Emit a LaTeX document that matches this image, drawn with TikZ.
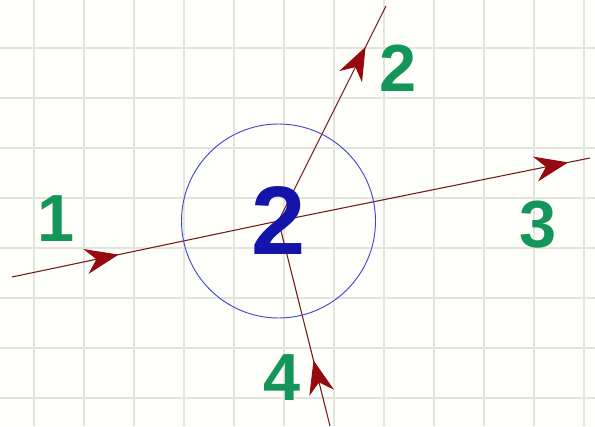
\documentclass[tikz,border=0pt]{standalone}
\usepackage{fontspec}
\setmainfont{Liberation Sans}
\usetikzlibrary{arrows.meta, decorations.markings}
\definecolor{flowR}{RGB}{115, 25, 25}
\definecolor{tipR}{RGB}{150, 10, 15}
\definecolor{numG}{RGB}{20, 150, 90}
\definecolor{hubB}{RGB}{20, 20, 170}
\definecolor{ringB}{RGB}{70, 70, 210}
\definecolor{gridG}{RGB}{228, 228, 222}
\definecolor{paperW}{RGB}{254, 254, 250}

\tikzset{
  branch/.style={flowR, line width=0.8pt},
  midtip/.style={postaction={decorate}, decoration={markings,
      mark=at position #1 with {\arrow[tipR]{Stealth[length=25pt, width=19pt, inset=8pt]}}}},
  numlabel/.style={numG, font=\fontsize{50}{50}\selectfont\bfseries, inner sep=0pt},
}

\begin{document}
\begin{tikzpicture}[x=37.5pt, y=37.5pt]
  \useasboundingbox (0,0) rectangle (11.9,8.52);
  % paper and grid
  \fill[paperW] (0,0) rectangle (11.9,8.52);
  \foreach \gx in {0,...,11}
    \draw[gridG, line width=0.9pt] (0.68+\gx,0) -- (0.68+\gx,8.52);
  \foreach \gy in {0,...,7}
    \draw[gridG, line width=0.9pt] (0,0.56+\gy) -- (11.9,0.56+\gy);

  % junction and free ends
  \coordinate (c) at (5.57,4.10);
  \coordinate (e1) at (0.24,2.98);
  \coordinate (e2) at (7.72,8.40);
  \coordinate (e3) at (11.8,5.36);
  \coordinate (e4) at (6.60,0);

  % branches
  \draw[branch, midtip=0.40] (e1) -- (c);
  \draw[branch, midtip=0.81] (c) -- (e2);
  \draw[branch, midtip=0.93] (c) -- (e3);
  \draw[branch, midtip=0.32] (e4) -- (c);

  % junction ring
  \node[draw=ringB, circle, line width=0.7pt, minimum size=145.5pt, inner sep=0pt,
        text=hubB, font=\fontsize{73}{73}\selectfont\bfseries] (hub) at (c) {2};

  % branch numbers
  \node[numlabel] (n1) at (1.12,4.14) {1};
  \node[numlabel] (n2) at (7.96,7.16) {2};
  \node[numlabel] (n3) at (10.76,4.02) {3};
  \node[numlabel] (n4) at (5.64,0.96) {4};
\end{tikzpicture}
\end{document}
